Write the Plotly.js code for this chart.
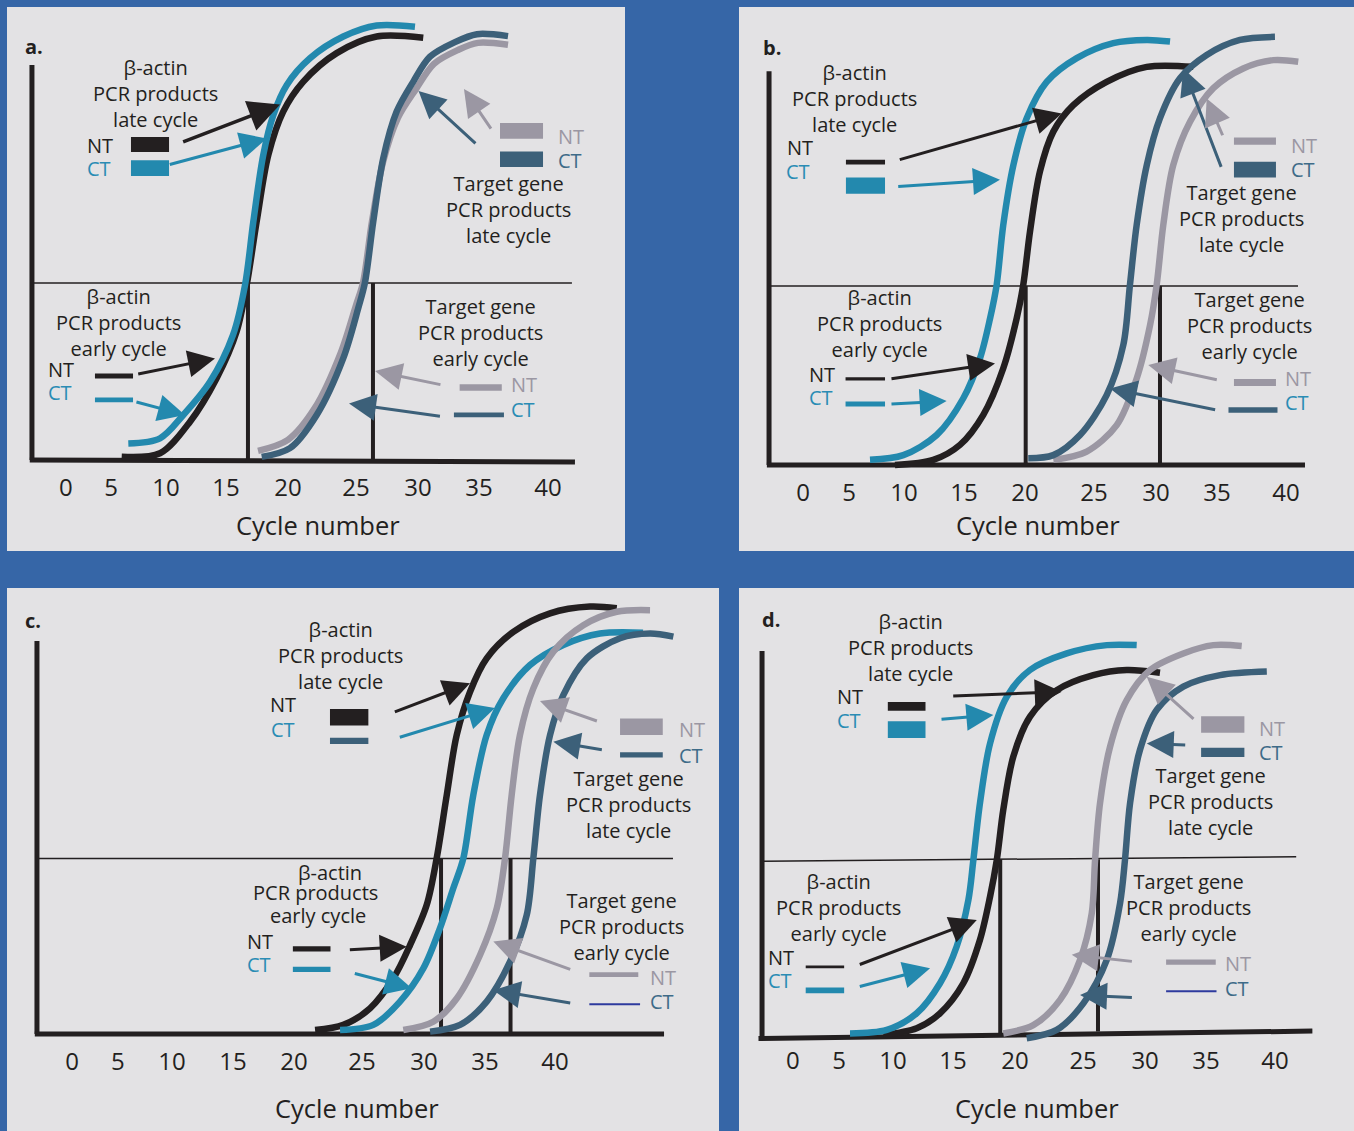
<!DOCTYPE html>
<html>
<head>
<meta charset="utf-8">
<script src="https://cdn.plot.ly/plotly-3.0.1.min.js"></script>
<style>
html,body{margin:0;padding:0;background:#3666A7;}
#chart{width:1354px;height:1131px;}
</style>
</head>
<body>
<div id="chart"></div>
<script>
// ---------------- DATA ----------------
const tickText = ["0","5","10","15","20","25","30","35","40"];
const axisTitle = "Cycle number";
// positions (in cycles) where the tick labels sit in each panel
const tickPosA = [2.14,5.68,10,14.71,19.58,24.93,29.80,34.59,40.01];
const tickPosB = [2.07,5.68,10,14.71,19.50,24.93,29.80,34.59,40.01];
const tickPosC = [2.16,5.76,10,14.78,19.57,24.90,29.76,34.55,40.04];
const tickPosD = [2.14,5.76,10,14.71,19.58,24.93,29.80,34.59,40.01];

// threshold level (start, end) and Ct values per panel
const thresholdA = [44.8, 44.8];
const thresholdB = [45.3, 45.3];
const thresholdC = [44.4, 44.4];
const thresholdD = [44.0, 45.1];
const ctA = [16.44, 26.26];
const ctB = [19.56, 30.11];
const ctC = [31.10, 36.55];
const ctD = [18.42, 26.10];

// Panel a curves
const aActinCT_x = [7.04,9.53,11.36,13.46,15.26,16.21,16.86,17.64,18.43,19.48,21.31,23.93,26.55,29.56];
const aActinCT_y = [4.2,5.5,11.4,19.8,31.6,44.3,60.3,77.2,87.3,94.9,101.7,107.2,110.0,109.7];
const aActinNT_x = [6.52,9.53,11.89,13.98,15.55,16.34,17.12,18.04,19.21,20.79,23.41,26.55,30.21];
const aActinNT_y = [0.8,1.7,9.7,20.7,32.5,44.3,60.3,77.2,88.2,95.8,103.0,107.2,106.9];
const aTargetCT_x = [17.52,19.74,21.84,23.93,25.11,25.63,26.28,27.07,28.12,29.43,30.74,32.70,34.43,36.87];
const aTargetCT_y = [0.8,3.0,11.4,25.8,38.5,44.9,60.3,76.4,88.2,95.8,102.1,105.8,107.8,107.3];
const aTargetNT_x = [17.23,19.58,21.70,23.75,24.93,25.48,26.18,27.05,28.22,29.64,31.05,32.94,34.51,36.87];
const aTargetNT_y = [2.3,5.1,13.2,27.3,39.2,44.9,60.3,75.4,86.6,93.9,100.3,103.8,105.6,105.1];

// Panel b curves
const bActinCT_x = [7.33,9.95,12.57,14.66,15.97,16.76,17.28,17.80,18.59,19.64,21.21,23.57,26.44,29.07,30.90];
const bActinCT_y = [1.3,2.5,7.6,16.9,27.0,37.1,45.6,60.8,75.9,87.8,97.0,103.0,106.8,107.6,107.2];
const bActinNT_x = [9.29,12.30,14.40,16.23,17.80,18.85,19.37,19.90,20.68,21.73,23.30,25.92,29.07,32.73];
const bActinNT_y = [0.0,1.3,5.1,12.7,24.5,37.1,45.6,59.1,74.3,84.4,91.1,97.0,100.8,100.8];
const bTargetCT_x = [19.76,21.73,23.83,25.92,27.23,27.75,28.28,29.07,30.11,31.68,33.78,36.39,39.14];
const bTargetCT_y = [1.7,2.5,7.6,17.7,30.4,45.6,60.8,75.9,87.8,97.9,103.8,107.6,108.4];
const bTargetNT_x = [21.73,24.35,26.71,28.28,29.33,29.85,30.37,31.15,32.47,34.30,36.65,39.01,40.97];
const bTargetNT_y = [1.3,3.4,10.1,21.9,35.4,45.6,60.8,75.9,86.9,95.4,100.4,102.5,102.1];

// Panel c curves
const cActinNT_x = [21.22,23.44,25.53,27.36,28.67,29.98,30.76,31.55,32.33,33.37,34.68,36.77,39.65,42.78,44.88];
const cActinNT_y = [1.0,2.3,6.5,14.1,22.5,32.7,44.5,60.5,75.7,86.6,95.1,101.8,106.5,108.2,107.8];
const cActinCT_x = [23.18,25.79,27.88,29.71,31.02,32.06,32.85,33.63,34.68,35.98,38.08,40.69,43.57,46.94];
const cActinCT_y = [1.0,2.3,8.2,16.6,26.8,36.9,44.5,60.5,75.7,85.0,93.4,98.5,101.4,101.6];
const cTargetNT_x = [28.14,30.49,32.33,34.16,35.47,36.12,36.64,37.29,38.34,39.91,42.26,44.88,47.49];
const cTargetNT_y = [1.0,3.1,9.0,20.0,31.8,44.5,60.5,75.7,87.5,96.8,103.5,106.9,107.3];
const cTargetCT_x = [30.24,32.59,34.68,36.51,37.82,38.34,38.86,39.65,40.69,42.53,45.14,47.49,49.32];
const cTargetCT_y = [0.6,2.3,8.2,18.3,30.1,44.5,60.5,75.7,85.8,95.1,100.2,101.4,100.6];

// Panel d curves
const dActinCT_x = [6.62,9.51,11.86,13.69,15.00,15.92,16.31,16.83,17.62,18.93,20.76,23.65,26.79,29.14];
const dActinCT_y = [0.4,1.3,5.5,13.1,22.4,34.2,44.3,58.7,73.8,85.6,92.4,96.6,98.7,98.7];
const dActinNT_x = [9.24,11.86,13.69,15.52,16.83,17.62,18.15,18.66,19.45,20.76,22.86,25.73,28.36,30.97];
const dActinNT_y = [0.0,1.7,5.5,13.1,24.1,35.0,44.3,57.0,70.5,80.6,87.3,91.1,92.4,91.7];
const dTargetNT_x = [18.66,21.02,23.12,24.69,25.61,25.87,26.26,27.05,28.36,30.19,32.80,35.16,37.39];
const dTargetNT_y = [0.4,2.5,8.9,19.0,30.8,44.3,58.7,73.0,84.8,92.4,96.6,98.7,98.5];
const dTargetCT_x = [20.50,22.86,24.95,26.79,27.83,28.22,28.62,29.40,30.71,32.80,35.69,39.36];
const dTargetCT_y = [-0.8,1.3,8.0,19.0,33.3,44.3,58.7,72.2,82.3,88.2,91.1,92.0];

// ---------------- STYLE ----------------
const W = 1354, H = 1131;
const FONT = "Open Sans, Noto Sans, sans-serif";
const TXT = 20;
const COL = {
  bg:'#3666A7', panel:'#E3E2E4', black:'#231F20', blue:'#2389AE', teal:'#3C6079',
  gray:'#9B97A3', navy:'#2E3A9E', blueText:'#2A8CB4', tealText:'#3E6B88'
};
const LATE_B = 'β-actin<br>PCR products<br>late cycle';
const EARLY_B = 'β-actin<br>PCR products<br>early cycle';
const LATE_T = 'Target gene<br>PCR products<br>late cycle';
const EARLY_T = 'Target gene<br>PCR products<br>early cycle';

const AX = {
  a:{x:'x', y:'y', xk:'xaxis', yk:'yaxis'},
  b:{x:'x2', y:'y2', xk:'xaxis2', yk:'yaxis2'},
  c:{x:'x3', y:'y3', xk:'xaxis3', yk:'yaxis3'},
  d:{x:'x4', y:'y4', xk:'xaxis4', yk:'yaxis4'}
};

const traces = [];
const shapes = [];
const annotations = [];
const layout = {
  width: W, height: H,
  margin:{l:0,r:0,t:0,b:0},
  paper_bgcolor: COL.bg, plot_bgcolor: COL.panel,
  showlegend:false,
  shapes, annotations
};

function curve(p, xs, ys, color, width) {
  traces.push({type:'scatter', mode:'lines', x:xs, y:ys, xaxis:AX[p].x, yaxis:AX[p].y,
    line:{color:color, width:width || 6.5, shape:'spline', smoothing:0.9}, hoverinfo:'skip'});
}
function txt(p, x, y, text, color, size) {
  annotations.push({xref:AX[p].x, yref:AX[p].y, x:x, y:y, text:text, showarrow:false,
    xanchor:'center', yanchor:'middle', font:{family:FONT, size:size || TXT, color:color || COL.black}});
}
function arrow(p, x0, y0, x1, y1, color, w) {
  annotations.push({xref:AX[p].x, yref:AX[p].y, axref:AX[p].x, ayref:AX[p].y,
    x:x1, y:y1, ax:x0, ay:y0, text:'', showarrow:true, arrowhead:2, arrowsize:1.8,
    arrowwidth:w || 3, arrowcolor:color, standoff:0, startstandoff:0});
}
function bar(p, x0, x1, y0, y1, color) {
  shapes.push({type:'rect', xref:AX[p].x, yref:AX[p].y, x0:x0, x1:x1, y0:y0, y1:y1,
    fillcolor:color, line:{width:0}, layer:'above'});
}
function seg(p, x0, y0, x1, y1, w) {
  shapes.push({type:'line', xref:AX[p].x, yref:AX[p].y, x0:x0, y0:y0, x1:x1, y1:y1,
    line:{color:COL.black, width:w}, layer:'below'});
}
function axes(p, px, py, xr, yr, tickPos, labelPx, titleX, titleY) {
  layout[AX[p].xk] = {domain:[px[0]/W, px[1]/W], range:xr, anchor:'free', position:1 - labelPx/H,
    tickmode:'array', tickvals:tickPos, ticktext:tickText, ticks:'', showline:false, showgrid:false,
    zeroline:false, fixedrange:true, tickfont:{family:FONT, size:24, color:COL.black}};
  layout[AX[p].yk] = {domain:[1 - py[1]/H, 1 - py[0]/H], range:yr, visible:false, fixedrange:true};
  txt(p, titleX, titleY, axisTitle, COL.black, 25.5);
}

// ---------------- PANEL a ----------------
axes('a', [7,625], [7,551], [-2.49,46.06], [-23.04,114.68], tickPosA, 471, 21.94, -16.46);
seg('a', -0.53, 0, -0.53, 100, 5);
seg('a', -0.70, 0, 42.13, -0.5, 5);
seg('a', -0.53, thresholdA[0], 41.89, thresholdA[1], 1.5);
ctA.forEach(c => seg('a', c, thresholdA[0], c, 0, 4));
curve('a', aTargetNT_x, aTargetNT_y, COL.gray);
curve('a', aTargetCT_x, aTargetCT_y, COL.teal);
curve('a', aActinNT_x, aActinNT_y, COL.black);
curve('a', aActinCT_x, aActinCT_y, COL.blue);
txt('a', -0.37, 104.6, '<b>a.</b>', COL.black, 20);
txt('a', 9.14, 92.7, LATE_B);
txt('a', 4.82, 79.7, 'NT'); txt('a', 4.74, 73.9, 'CT', COL.blueText);
txt('a', 6.23, 34.9, EARLY_B);
txt('a', 1.75, 23.0, 'NT'); txt('a', 1.67, 17.2, 'CT', COL.blueText);
txt('a', 36.87, 63.5, LATE_T);
txt('a', 41.81, 82.0, 'NT', COL.gray); txt('a', 41.74, 75.9, 'CT', COL.tealText);
txt('a', 34.67, 32.4, EARLY_T);
txt('a', 38.12, 19.0, 'NT', COL.gray); txt('a', 38.04, 12.9, 'CT', COL.blueText);
bar('a', 7.25, 10.24, 81.8, 78.0, COL.black);
bar('a', 7.25, 10.24, 75.9, 71.9, COL.blue);
bar('a', 4.42, 7.41, 21.9, 20.6, COL.black);
bar('a', 4.42, 7.41, 15.8, 14.6, COL.blue);
bar('a', 36.24, 39.62, 85.3, 81.3, COL.gray);
bar('a', 36.24, 39.62, 78.1, 74.2, COL.teal);
bar('a', 33.07, 36.38, 19.2, 17.5, COL.gray);
bar('a', 32.62, 36.55, 12.0, 10.8, COL.teal);
arrow('a', 11.23, 80.4, 18.96, 90.0, COL.black, 3.5);
arrow('a', 10.18, 74.7, 17.91, 81.4, COL.blue);
arrow('a', 7.70, 21.7, 13.85, 25.7, COL.black);
arrow('a', 7.56, 14.8, 11.49, 11.4, COL.blue);
arrow('a', 34.43, 79.8, 29.84, 93.4, COL.teal);
arrow('a', 35.61, 83.5, 33.41, 93.9, COL.gray);
arrow('a', 31.68, 19.0, 26.42, 22.5, COL.gray);
arrow('a', 31.64, 11.0, 24.38, 14.3, COL.teal);

// ---------------- PANEL b ----------------
axes('b', [739,1354], [7,551], [-2.96,45.35], [-21.77,115.95], tickPosB, 476, 20.53, -15.19);
seg('b', -0.60, 0, -0.60, 99.7, 5);
seg('b', -0.77, 0, 41.50, 0, 5);
seg('b', -0.60, thresholdB[0], 40.95, thresholdB[1], 1.5);
ctB.forEach(c => seg('b', c, thresholdB[0], c, 0.5, 4));
curve('b', bActinNT_x, bActinNT_y, COL.black);
curve('b', bActinCT_x, bActinCT_y, COL.blue);
curve('b', bTargetNT_x, bTargetNT_y, COL.gray);
curve('b', bTargetCT_x, bTargetCT_y, COL.teal);
txt('b', -0.37, 105.8, '<b>b.</b>', COL.black, 20);
txt('b', 6.15, 92.7, LATE_B);
txt('b', 1.83, 80.3, 'NT'); txt('b', 1.67, 74.2, 'CT', COL.blueText);
txt('b', 8.11, 35.7, EARLY_B);
txt('b', 3.56, 23.0, 'NT'); txt('b', 3.48, 17.0, 'CT', COL.blueText);
txt('b', 36.55, 62.3, LATE_T);
txt('b', 41.42, 80.8, 'NT', COL.gray); txt('b', 41.34, 74.7, 'CT', COL.tealText);
txt('b', 37.18, 35.4, EARLY_T);
txt('b', 40.95, 21.8, 'NT', COL.gray); txt('b', 40.87, 15.7, 'CT', COL.blueText);
bar('b', 5.44, 8.51, 77.3, 76.1, COL.black);
bar('b', 5.44, 8.51, 72.8, 68.7, COL.blue);
bar('b', 5.41, 8.51, 22.2, 21.4, COL.black);
bar('b', 5.41, 8.51, 16.1, 14.8, COL.blue);
bar('b', 35.92, 39.22, 82.9, 81.1, COL.gray);
bar('b', 35.92, 39.22, 76.8, 72.8, COL.teal);
bar('b', 35.92, 39.22, 21.8, 20.0, COL.gray);
bar('b', 35.49, 39.34, 14.6, 13.2, COL.teal);
arrow('b', 9.55, 77.2, 22.39, 89.0, COL.black);
arrow('b', 9.43, 70.5, 17.54, 72.2, COL.blue);
arrow('b', 8.90, 21.8, 17.15, 25.7, COL.black);
arrow('b', 8.90, 15.4, 13.35, 16.2, COL.blue);
arrow('b', 34.96, 75.1, 31.94, 100.4, COL.teal);
arrow('b', 35.08, 83.1, 33.78, 92.8, COL.gray);
arrow('b', 34.69, 21.5, 29.19, 25.3, COL.gray);
arrow('b', 34.56, 13.9, 26.18, 19.4, COL.teal);

// ---------------- PANEL c ----------------
axes('c', [7,719], [588,1131], [-2.94,52.90], [-24.56,112.91], tickPosC, 1045, 24.51, -18.73);
seg('c', -0.59, 0, -0.59, 99.5, 5);
seg('c', -0.76, 0, 48.59, 0, 5);
seg('c', -0.43, thresholdC[0], 49.29, thresholdC[1], 1.5);
ctC.forEach(c => seg('c', c, thresholdC[0], c, 0, 4));
curve('c', cActinNT_x, cActinNT_y, COL.black);
curve('c', cActinCT_x, cActinCT_y, COL.blue);
curve('c', cTargetNT_x, cTargetNT_y, COL.gray);
curve('c', cTargetCT_x, cTargetCT_y, COL.teal);
txt('c', -0.90, 104.8, '<b>c.</b>', COL.black, 20);
txt('c', 23.18, 95.7, LATE_B);
txt('c', 18.71, 83.3, 'NT'); txt('c', 18.71, 77.0, 'CT', COL.blueText);
txt('c', 22.39, 41.0, 'β-actin');
txt('c', 21.29, 35.9, 'PCR products');
txt('c', 21.45, 29.9, 'early cycle');
txt('c', 16.90, 23.5, 'NT'); txt('c', 16.82, 17.7, 'CT', COL.blueText);
txt('c', 45.84, 58.2, LATE_T);
txt('c', 50.78, 77.0, 'NT', COL.gray); txt('c', 50.71, 70.6, 'CT', COL.tealText);
txt('c', 45.29, 27.3, EARLY_T);
txt('c', 48.51, 14.4, 'NT', COL.gray); txt('c', 48.43, 8.1, 'CT', COL.tealText);
bar('c', 22.39, 25.40, 82.3, 78.1, COL.black);
bar('c', 22.39, 25.40, 75.0, 73.4, COL.teal);
bar('c', 19.48, 22.43, 22.2, 20.9, COL.black);
bar('c', 19.48, 22.43, 17.0, 15.7, COL.blue);
bar('c', 45.14, 48.49, 79.9, 75.7, COL.gray);
bar('c', 45.14, 48.49, 71.3, 70.0, COL.teal);
bar('c', 42.73, 46.57, 15.6, 14.4, COL.gray);
bar('c', 42.73, 46.71, 7.8, 7.3, COL.navy);
arrow('c', 27.36, 81.4, 33.37, 88.8, COL.black);
arrow('c', 27.75, 75.0, 35.33, 82.5, COL.blue);
arrow('c', 23.83, 21.3, 28.41, 22.1, COL.black);
arrow('c', 24.22, 15.4, 28.80, 11.6, COL.blue);
arrow('c', 43.44, 79.1, 38.86, 84.3, COL.gray);
arrow('c', 43.83, 71.9, 39.91, 74.0, COL.teal);
arrow('c', 41.35, 16.2, 35.20, 23.4, COL.gray);
arrow('c', 41.35, 7.8, 35.20, 11.1, COL.teal);

// ---------------- PANEL d ----------------
axes('d', [739,1354], [588,1131], [-2.10,46.21], [-24.30,113.16], tickPosD, 1044, 21.31, -18.48);
seg('d', -0.29, -0.9, -0.29, 97.2, 5);
seg('d', -0.57, -0.9, 42.94, 1.0, 5);
seg('d', -0.16, thresholdD[0], 41.67, thresholdD[1], 1.5);
seg('d', ctD[0], 44.5, ctD[0], 0.4, 4);
seg('d', ctD[1], 44.5, ctD[1], 0.9, 4);
curve('d', dActinNT_x, dActinNT_y, COL.black);
curve('d', dActinCT_x, dActinCT_y, COL.blue);
curve('d', dTargetNT_x, dTargetNT_y, COL.gray);
curve('d', dTargetCT_x, dTargetCT_y, COL.teal);
txt('d', 0.42, 105.1, '<b>d.</b>', COL.black, 20);
txt('d', 11.34, 98.2, LATE_B);
txt('d', 6.62, 85.6, 'NT'); txt('d', 6.54, 79.5, 'CT', COL.blueText);
txt('d', 5.68, 32.4, EARLY_B);
txt('d', 1.20, 19.7, 'NT'); txt('d', 1.12, 13.7, 'CT', COL.blueText);
txt('d', 34.90, 59.0, LATE_T);
txt('d', 39.77, 77.5, 'NT', COL.gray); txt('d', 39.69, 71.6, 'CT', COL.tealText);
txt('d', 33.17, 32.4, EARLY_T);
txt('d', 37.10, 18.2, 'NT', COL.gray); txt('d', 37.02, 11.9, 'CT', COL.tealText);
bar('d', 9.59, 12.55, 84.3, 82.1, COL.black);
bar('d', 9.59, 12.55, 79.4, 75.2, COL.blue);
bar('d', 3.14, 6.16, 17.6, 16.9, COL.black);
bar('d', 3.14, 6.16, 12.0, 10.6, COL.blue);
bar('d', 34.20, 37.60, 80.7, 76.5, COL.gray);
bar('d', 34.20, 37.60, 72.7, 70.4, COL.teal);
bar('d', 31.45, 35.35, 19.1, 17.8, COL.gray);
bar('d', 31.45, 35.41, 11.3, 10.8, COL.navy);
arrow('d', 14.61, 85.8, 23.25, 86.9, COL.black);
arrow('d', 13.69, 79.9, 17.88, 81.0, COL.blue);
arrow('d', 7.27, 17.7, 16.58, 29.1, COL.black);
arrow('d', 7.27, 12.2, 12.91, 16.9, COL.blue);
arrow('d', 33.72, 79.7, 29.93, 90.7, COL.gray);
arrow('d', 33.07, 73.4, 29.93, 73.8, COL.teal);
arrow('d', 28.88, 18.6, 24.04, 20.3, COL.gray);
arrow('d', 28.88, 9.5, 24.69, 10.1, COL.teal);

Plotly.newPlot('chart', traces, layout, {displayModeBar:false, staticPlot:true});
</script>
</body>
</html>
